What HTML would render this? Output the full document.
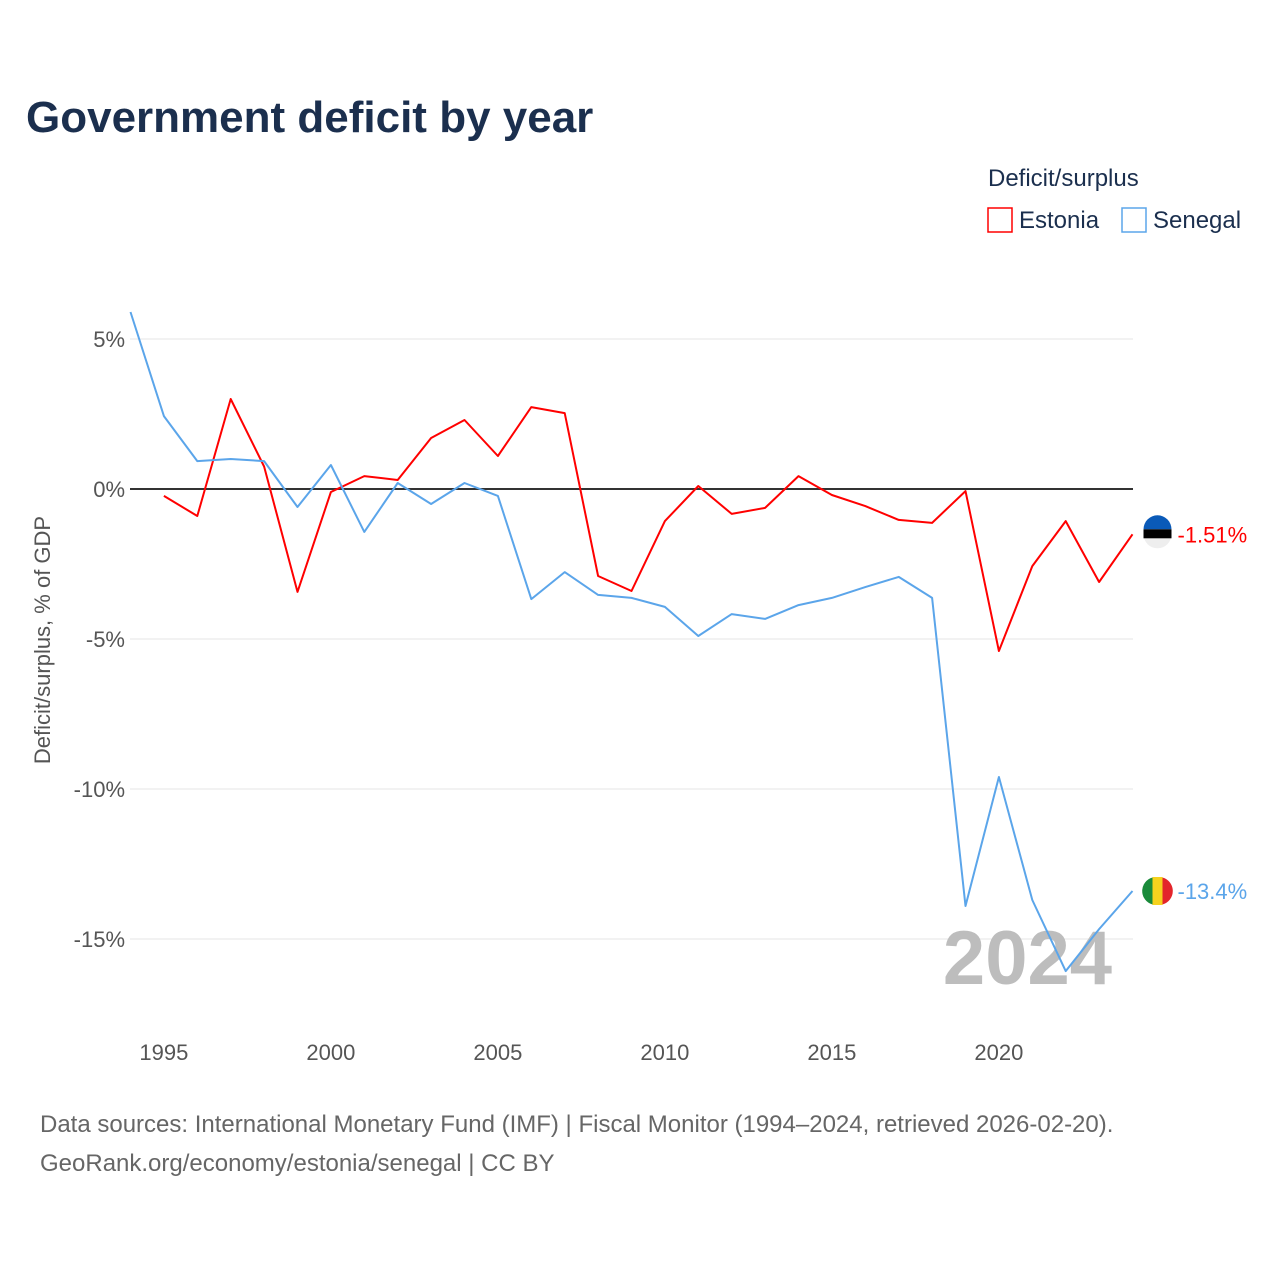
<!DOCTYPE html>
<html><head><meta charset="utf-8"><style>
body{margin:0;background:#fff;font-family:"Liberation Sans",sans-serif}
svg text{font-family:"Liberation Sans",sans-serif}
</style></head><body>
<svg width="1280" height="1280" xmlns="http://www.w3.org/2000/svg">
<text x="26" y="132" font-size="44" font-weight="bold" fill="#1b2f4e">Government deficit by year</text>
<text x="988" y="186" font-size="24" fill="#1b2f4e">Deficit/surplus</text>
<g><rect x="988" y="208" width="24" height="24" fill="none" stroke="#f00" stroke-width="1.5"/><text x="1019" y="228" font-size="24" fill="#1b2f4e">Estonia</text></g>
<g><rect x="1122" y="208" width="24" height="24" fill="none" stroke="#5ba5ea" stroke-width="1.5"/><text x="1153" y="228" font-size="24" fill="#1b2f4e">Senegal</text></g>
<g id="grid"></g>
<g id="yt"></g>
<g id="xt"></g>
<text transform="translate(50,640) rotate(-90)" text-anchor="middle" font-size="22" fill="#555">Deficit/surplus, % of GDP</text>
<text x="1112" y="984" text-anchor="end" font-size="76" font-weight="bold" fill="#bdbdbd">2024</text>
<g id="lines"></g>
<text x="40" y="1132" font-size="24" fill="#666">Data sources: International Monetary Fund (IMF) | Fiscal Monitor (1994–2024, retrieved 2026-02-20).</text>
<text x="40" y="1171" font-size="24" fill="#666">GeoRank.org/economy/estonia/senegal | CC BY</text>
</svg>
<script>
const yearsEst=[1995,1996,1997,1998,1999,2000,2001,2002,2003,2004,2005,2006,2007,2008,2009,2010,2011,2012,2013,2014,2015,2016,2017,2018,2019,2020,2021,2022,2023,2024];
const estonia=[-0.23,-0.9,3.0,0.75,-3.43,-0.1,0.43,0.3,1.7,2.3,1.1,2.73,2.53,-2.9,-3.4,-1.07,0.1,-0.83,-0.63,0.43,-0.2,-0.57,-1.03,-1.13,-0.07,-5.4,-2.57,-1.07,-3.1,-1.51];
const yearsSen=[1994,1995,1996,1997,1998,1999,2000,2001,2002,2003,2004,2005,2006,2007,2008,2009,2010,2011,2012,2013,2014,2015,2016,2017,2018,2019,2020,2021,2022,2023,2024];
const senegal=[5.9,2.43,0.93,1.0,0.93,-0.6,0.8,-1.43,0.2,-0.5,0.2,-0.23,-3.67,-2.77,-3.53,-3.63,-3.93,-4.9,-4.17,-4.33,-3.87,-3.63,-3.27,-2.93,-3.63,-13.9,-9.6,-13.7,-16.07,-14.67,-13.4];
const yTicks=[5,0,-5,-10,-15];
const yTickLabels=["5%","0%","-5%","-10%","-15%"];
const xTicks=[1995,2000,2005,2010,2015,2020];
const X=y=>130.5+(y-1994)*33.4, Y=v=>489-v*30;
const NS="http://www.w3.org/2000/svg";
function mk(t,a,p){const e=document.createElementNS(NS,t);for(const k in a)e.setAttribute(k,a[k]);p.appendChild(e);return e;}
const grid=document.getElementById('grid'),yt=document.getElementById('yt'),xt=document.getElementById('xt'),lines=document.getElementById('lines');
yTicks.forEach((v,i)=>{
 const l=mk('line',{x1:130,x2:1133,y1:Y(v),y2:Y(v),stroke:v===0?'#333':'#e6e6e6','stroke-width':v===0?2:1},grid);
 
 
 const t=mk('text',{x:125,y:Y(v)+8,'text-anchor':'end','font-size':22,fill:'#555'},yt);
 t.textContent=yTickLabels[i];
 
 
});
xTicks.forEach(y=>{
 const t=mk('text',{x:X(y),y:1060,'text-anchor':'middle','font-size':22,fill:'#555'},xt);
 t.textContent=y;
 
 
});
function series(ys,vals,color,name,label){
 const p=mk('polyline',{points:ys.map((y,i)=>X(y)+','+Y(vals[i])).join(' '),fill:'none',stroke:color,'stroke-width':2,'stroke-linejoin':'round'},lines);
 
 
 const lx=X(ys[ys.length-1]),ly=Y(vals[vals.length-1]);
 const c=mk('circle',{cx:lx+25,cy:ly,r:14,fill:'#eee'},lines);
 
 
 const t=mk('text',{x:lx+45,y:ly+8,'font-size':22,fill:color},lines);
 t.textContent=label;
 
 
 return [lx+25,ly];
}
const [ex,ey]=series(yearsEst,estonia,'#f00','estonia','-1.51%');
mk('path',{d:`M${ex-14},${ey-5} A14,14 0 0 1 ${ex+14},${ey-5} Z`,fill:'#0a5ab8'},lines);
mk('rect',{x:ex-14,y:ey-5,width:28,height:9,fill:'#000'},lines);
const [sx,sy]=series(yearsSen,senegal,'#5ba5ea','senegal','-13.4%');
mk('path',{d:`M${sx-5},${sy-13.5} L${sx-5},${sy+13.5} A14,14 0 0 1 ${sx-5},${sy-13.5}Z`,fill:'#198a3a'},lines);
mk('rect',{x:sx-5,y:sy-14,width:10,height:28,fill:'#f5d21e'},lines);
mk('path',{d:`M${sx+5},${sy-13.5} A14,14 0 0 1 ${sx+5},${sy+13.5}Z`,fill:'#e3252b'},lines);
</script>
</body></html>
